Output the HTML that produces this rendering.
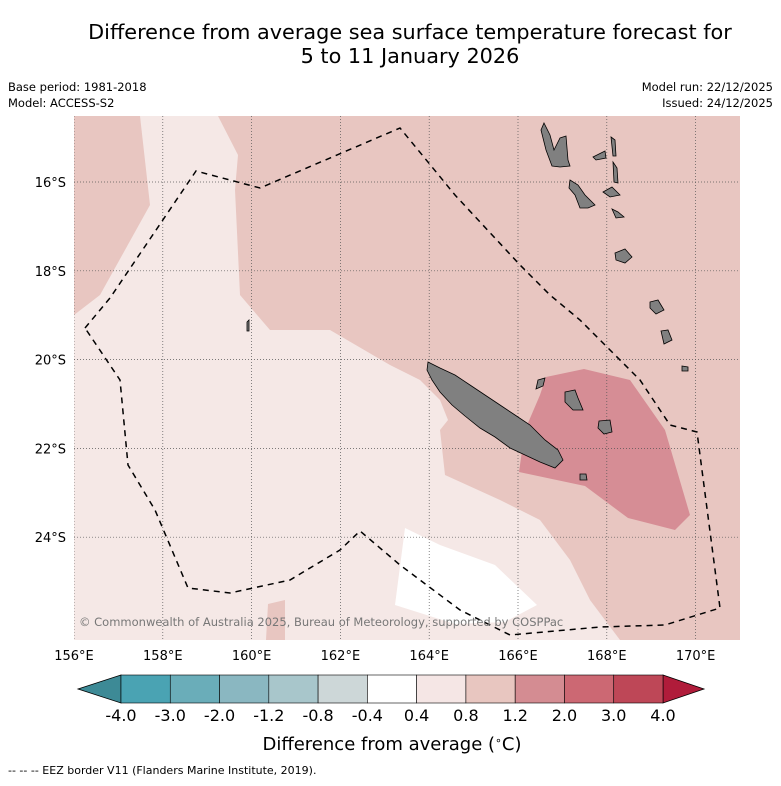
<!DOCTYPE html>
<html><head><meta charset="utf-8"><style>
body{margin:0;background:#fff;font-family:"Liberation Sans","DejaVu Sans",sans-serif;}
</style></head><body>
<svg width="781" height="781" viewBox="0 0 781 781" xmlns="http://www.w3.org/2000/svg" font-family="DejaVu Sans, Liberation Sans, sans-serif">
<text x="410" y="39" font-size="20.8" text-anchor="middle">Difference from average sea surface temperature forecast for</text>
<text x="410" y="63" font-size="20.8" text-anchor="middle">5 to 11 January 2026</text>
<text x="8" y="91" font-size="11.5">Base period: 1981-2018</text>
<text x="8" y="107" font-size="11.5">Model: ACCESS-S2</text>
<text x="773" y="91" font-size="11.5" text-anchor="end">Model run: 22/12/2025</text>
<text x="773" y="107" font-size="11.5" text-anchor="end">Issued: 24/12/2025</text>
<g id="map">
<clipPath id="c"><rect x="74" y="116" width="666" height="524"/></clipPath>
<g clip-path="url(#c)">
<rect x="74" y="116" width="666" height="524" fill="#f5e8e6"/>
<path d="M74,116 L140,116 L150,205 L100,295 L74,315 Z" fill="#e8c6c1"/>
<path d="M218,116 L740,116 L740,640 L620,640 L590,600 L570,560 L540,520 L500,500 L445,475 L440,430 L448,420 L440,400 L420,380 L390,365 L330,330 L270,330 L240,295 L235,190 L238,155 Z" fill="#e8c6c1"/>
<path d="M268,604 L285,600 L285,640 L266,640 Z" fill="#e8c6c1"/>
<path d="M405,528 L440,545 L495,565 L537,605 L505,622 L455,624 L395,605 Z" fill="#ffffff"/>
<path d="M546,377 L584,369 L630,380 L665,430 L690,515 L675,530 L628,518 L585,486 L519,472 L525,430 L540,395 Z" fill="#d68d95"/>
<g id="grid" stroke="#555" stroke-width="0.7" stroke-dasharray="1,2"></g>
<g fill="#808080" stroke="#000" stroke-width="0.8">
<path d="M428,362 L440,368 L455,375 L470,385 L485,395 L500,405 L515,415 L530,425 L545,440 L558,450 L563,460 L555,468 L540,462 L525,455 L510,448 L495,437 L480,428 L465,416 L452,405 L440,392 L432,380 L427,370 Z"/>
<path d="M544,123 L550,135 L554,150 L560,138 L566,136 L568,160 L570,166 L560,167 L552,166 L546,150 L541,130 Z"/>
<path d="M570,180 L578,185 L585,195 L595,205 L588,208 L580,208 L575,195 L569,188 Z"/>
<path d="M593,157 L605,151 L606,158 L596,160 Z"/>
<path d="M611,137 L615,140 L616,156 L613,156 Z"/>
<path d="M613,162 L617,168 L618,183 L614,182 Z"/>
<path d="M603,192 L612,187 L620,195 L610,197 Z"/>
<path d="M612,209 L618,212 L624,217 L616,218 Z"/>
<path d="M615,253 L625,249 L632,257 L625,263 L616,260 Z"/>
<path d="M650,302 L658,300 L664,310 L656,314 L650,308 Z"/>
<path d="M661,331 L668,330 L672,340 L664,344 Z"/>
<path d="M682,366 L688,367 L688,371 L682,371 Z"/>
<path d="M565,392 L575,390 L578,398 L583,410 L573,410 L565,402 Z"/>
<path d="M599,421 L610,420 L612,432 L604,434 L598,428 Z"/>
<path d="M580,474 L586,474 L587,480 L580,480 Z"/>
<path d="M538,380 L545,378 L543,386 L536,389 Z"/>
<path d="M247,322 L249,320 L249,331 L247,331 Z"/>
</g>
<path d="M85,328 L110,298 L196,171 L260,188 L400,128 L455,195 L520,265 L550,295 L580,320 L640,380 L670,425 L697,432 L720,608 L665,625 L600,627 L510,635 L460,610 L400,565 L360,531 L340,550 L290,580 L230,593 L188,588 L155,510 L128,465 L120,380 Z" fill="none" stroke="#000" stroke-width="1.5" stroke-dasharray="6,5"/>
</g>
<text x="79" y="626" font-size="11.5" fill="#777">© Commonwealth of Australia 2025, Bureau of Meteorology, supported by COSPPac</text>
</g>
<g id="axes"></g>
<g id="cbar"></g>
<text x="392" y="750" font-size="18" text-anchor="middle">Difference from average (<tspan baseline-shift="super" font-size="11">∘</tspan>C)</text>
<text x="8" y="774" font-size="11">-- -- -- EEZ border V11 (Flanders Marine Institute, 2019).</text>
</svg>
<script>
const lonTicks=[156,158,160,162,164,166,168,170];
const latTicks=[16,18,20,22,24];
const cbarLabels=["-4.0","-3.0","-2.0","-1.2","-0.8","-0.4","0.4","0.8","1.2","2.0","3.0","4.0"];
const cbarColors=["#4aa3b3","#6aadb9","#8ab7c1","#a8c6cb","#cdd7d8","#ffffff","#f5e6e5","#e8c6c0","#d48c92","#cc6873","#be4757"];
const NS="http://www.w3.org/2000/svg";
const xOf=lon=>74+(lon-156)*44.4;
const yOf=lat=>182+(lat-16)*44.4;
function mk(t,a,p,txt){const e=document.createElementNS(NS,t);for(const k in a)e.setAttribute(k,a[k]);if(txt!==undefined)e.textContent=txt;p.appendChild(e);return e;}
const grid=document.getElementById('grid'),axes=document.getElementById('axes'),cb=document.getElementById('cbar');
lonTicks.forEach(l=>{const x=xOf(l);
 const g=mk('line',{x1:x,x2:x,y1:116,y2:640},grid);
 
 
 const t=mk('text',{x:x,y:660,'font-size':13,'text-anchor':'middle'},axes,l+'°E');
 
 });
latTicks.forEach(l=>{const y=yOf(l);
 const g=mk('line',{x1:74,x2:740,y1:y,y2:y},grid);
 
 
 const t=mk('text',{x:66,y:y+5,'font-size':13,'text-anchor':'end'},axes,l+'°S');
 
 });
const cbX0=121,cbX1=663,cbW=(cbX1-cbX0)/cbarColors.length,cbTop=675,cbBot=703;
const lt=mk('polygon',{points:`${cbX0},${cbTop} 78,${(cbTop+cbBot)/2} ${cbX0},${cbBot}`,fill:'#3d8a96',stroke:'#000','stroke-width':0.8},cb);


const rt=mk('polygon',{points:`${cbX1},${cbTop} 704,${(cbTop+cbBot)/2} ${cbX1},${cbBot}`,fill:'#b01c3a',stroke:'#000','stroke-width':0.8},cb);


cbarColors.forEach((c,i)=>{const r=mk('rect',{x:cbX0+i*cbW,y:cbTop,width:cbW,height:cbBot-cbTop,fill:c,stroke:'#000','stroke-width':0.6},cb);
 
 });
cbarLabels.forEach((s,i)=>{const t=mk('text',{x:cbX0+i*cbW,y:721,'font-size':16,'text-anchor':'middle'},cb,s);
 
 });
</script>
</body></html>
